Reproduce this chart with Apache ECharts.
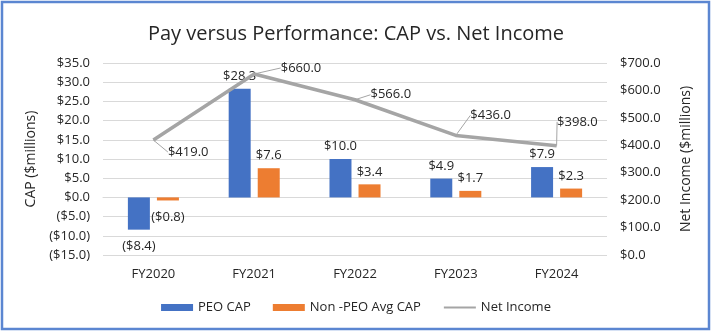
<!DOCTYPE html>
<html>
<head>
<meta charset="utf-8">
<script src="https://cdn.jsdelivr.net/npm/echarts@6/dist/echarts.min.js"></script>
<style>
html,body{margin:0;padding:0;background:#fff;}
#chart{width:712px;height:332px;}
</style>
</head>
<body>
<div id="chart"></div>
<script>
const categories = ['FY2020', 'FY2021', 'FY2022', 'FY2023', 'FY2024'];
const peoCap = [-8.4, 28.3, 10.0, 4.9, 7.9];
const nonPeoCap = [-0.8, 7.6, 3.4, 1.7, 2.3];
const netIncome = [419.0, 660.0, 566.0, 436.0, 398.0];
const seriesNames = ['PEO CAP', 'Non -PEO Avg CAP', 'Net Income'];
const titleText = 'Pay versus Performance: CAP vs. Net Income';
const leftAxisName = 'CAP ($millions)';
const rightAxisName = 'Net Income ($millions)';

const FONT = '"Open Sans", sans-serif';
const TXT = '#262626';
function money(v) {
  const s = '$' + Math.abs(v).toFixed(1);
  return v < 0 ? '(' + s + ')' : s;
}
const lineLabelOffsets = [[9, 12], [21, -6], [10, -5], [9, -20], [-5, -24]];

const chart = echarts.init(document.getElementById('chart'));
const barLabel = {
  show: true,
  fontFamily: FONT, fontSize: 13, color: TXT,
  distance: 6,
  formatter: p => money(p.value)
};
function barData(arr) {
  return arr.map(v => v < 0 ? { value: v, label: { position: 'bottom', distance: 10 } } : { value: v, label: { position: 'top' } });
}
chart.setOption({
  animation: false,
  textStyle: { fontFamily: FONT },
  graphic: [{
    type: 'rect', silent: true,
    shape: { x: 2, y: 2, width: 707, height: 327 },
    style: { fill: 'none', stroke: '#5b86d1', lineWidth: 2.5 }
  }],
  title: {
    text: titleText, left: 'center', top: 19,
    textStyle: { fontFamily: FONT, fontSize: 20, fontWeight: 'normal', color: TXT }
  },
  legend: {
    bottom: 13, left: 'center',
    itemWidth: 32, itemHeight: 7, itemGap: 22,
    textStyle: { fontFamily: FONT, fontSize: 13, color: TXT },
    data: [
      { name: seriesNames[0], icon: 'rect' },
      { name: seriesNames[1], icon: 'rect' },
      { name: seriesNames[2], itemStyle: { opacity: 0 } }
    ]
  },
  grid: { left: 103, right: 105, top: 63, bottom: 77, containLabel: false },
  xAxis: {
    type: 'category', data: categories,
    axisLine: { show: true, lineStyle: { color: '#d9d9d9' } },
    axisTick: { show: false },
    axisLabel: { fontFamily: FONT, fontSize: 13, color: TXT, margin: 13 }
  },
  yAxis: [{
    type: 'value', min: -15, max: 35, interval: 5,
    name: leftAxisName, nameLocation: 'middle', nameGap: 64, nameRotate: 90,
    nameTextStyle: { fontFamily: FONT, fontSize: 14, color: TXT },
    axisLine: { show: false }, axisTick: { show: false },
    axisLabel: { fontFamily: FONT, fontSize: 13, color: TXT, margin: 13, formatter: money },
    splitLine: { lineStyle: { color: '#d9d9d9' } }
  }, {
    type: 'value', min: 0, max: 700, interval: 100,
    name: rightAxisName, nameLocation: 'middle', nameGap: 72, nameRotate: 90,
    nameTextStyle: { fontFamily: FONT, fontSize: 14, color: TXT },
    axisLine: { show: false }, axisTick: { show: false },
    axisLabel: { fontFamily: FONT, fontSize: 13, color: TXT, margin: 13, formatter: money },
    splitLine: { show: false }
  }],
  series: [{
    name: seriesNames[0], type: 'bar', yAxisIndex: 0,
    data: barData(peoCap), barWidth: 22, barGap: '32%',
    itemStyle: { color: '#4472c4' },
    label: barLabel
  }, {
    name: seriesNames[1], type: 'bar', yAxisIndex: 0,
    data: barData(nonPeoCap), barWidth: 22, barGap: '32%',
    itemStyle: { color: '#ed7d31' },
    label: barLabel
  }, {
    name: seriesNames[2], type: 'line', yAxisIndex: 1,
    data: netIncome, symbol: 'circle', symbolSize: 1, showSymbol: true,
    lineStyle: { color: '#a5a5a5', width: 3.5 },
    itemStyle: { color: '#a5a5a5' },
    label: {
      show: true, position: 'right', distance: 5,
      fontFamily: FONT, fontSize: 13, color: TXT,
      formatter: p => money(p.value)
    },
    labelLine: { show: true, lineStyle: { color: '#a5a5a5', width: 1 } },
    labelLayout: p => ({ dx: lineLabelOffsets[p.dataIndex][0], dy: lineLabelOffsets[p.dataIndex][1] })
  }]
});
</script>
</body>
</html>
